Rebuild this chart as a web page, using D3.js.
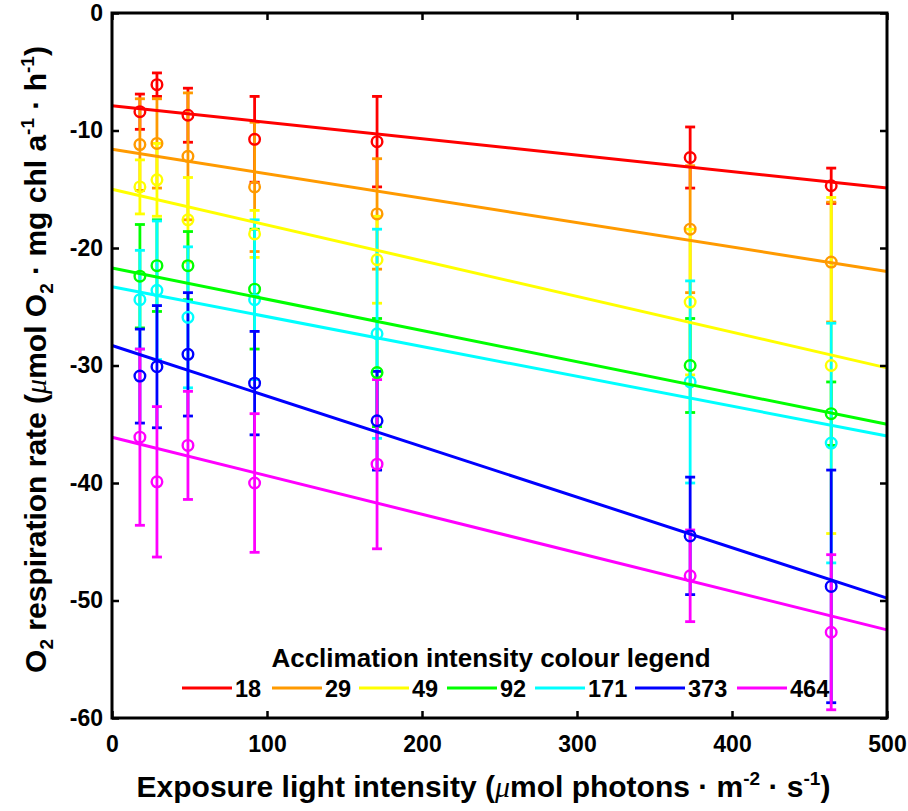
<!DOCTYPE html>
<html><head><meta charset="utf-8">
<script src="https://cdn.jsdelivr.net/npm/d3@7"></script>
<style>body{margin:0;background:#fff}svg{display:block}text{font-family:"Liberation Sans",Arial,sans-serif;font-weight:bold}</style>
</head><body><svg id="c" width="908" height="811"></svg>
<script>
const exposure = [18, 29, 49, 92, 171, 373, 464];
const acclimation = ["18", "29", "49", "92", "171", "373", "464"];
const colors = ["#ff0000", "#ff9a00", "#ffff00", "#00ff00", "#00ffff", "#0000ff", "#ff00ff"];
const means = [
  [-8.4, -6.1, -8.7, -10.75, -10.95, -12.3, -14.7],
  [-11.2, -11.1, -12.2, -14.8, -17.1, -18.4, -21.2],
  [-14.8, -14.2, -17.6, -18.8, -21.0, -24.6, -30.0],
  [-22.4, -21.5, -21.5, -23.5, -30.6, -30.0, -34.1],
  [-24.4, -23.6, -25.9, -24.4, -27.3, -31.4, -36.6],
  [-30.9, -30.1, -29.05, -31.5, -34.7, -44.5, -48.8],
  [-36.1, -39.9, -36.8, -40.0, -38.4, -47.9, -52.7]
];
const errors = [
  [1.5, 1.0, 2.3, 3.65, 3.85, 2.6, 1.5],
  [3.9, 3.8, 5.4, 5.5, 4.7, 5.4, 5.1],
  [2.3, 3.1, 3.6, 2.0, 3.7, 6.2, 14.3],
  [4.4, 3.9, 2.9, 5.1, 4.6, 4.0, 2.7],
  [4.2, 5.9, 6.0, 6.8, 8.9, 8.6, 10.2],
  [4.0, 5.2, 5.25, 4.4, 4.2, 5.0, 9.9],
  [7.5, 6.4, 4.6, 5.9, 7.2, 3.9, 6.6]
];
const fitAt0 = [-7.9, -11.6, -15.0, -21.7, -23.3, -28.3, -36.1];
const fitAt500 = [-14.9, -22.0, -30.2, -35.0, -36.0, -49.8, -52.5];
const xTicks = [0, 100, 200, 300, 400, 500];
const yTicks = [0, -10, -20, -30, -40, -50, -60];

const svg = d3.select("#c");
const L = 112, R = 887, T = 13, B = 718;
const x = d3.scaleLinear().domain([0, 500]).range([L, R]);
const y = d3.scaleLinear().domain([-60, 0]).range([B, T]);

// error bars
const gE = svg.append("g");
means.forEach((row, s) => {
  row.forEach((m, i) => {
    const e = errors[s][i], cx = x(exposure[i]);
    const g = gE.append("g").attr("stroke", colors[s]).attr("stroke-width", 2.8);
    g.append("line").attr("x1", cx).attr("x2", cx).attr("y1", y(m + e)).attr("y2", y(m - e));
    g.append("line").attr("x1", cx - 5).attr("x2", cx + 5).attr("y1", y(m + e)).attr("y2", y(m + e));
    g.append("line").attr("x1", cx - 5).attr("x2", cx + 5).attr("y1", y(m - e)).attr("y2", y(m - e));
  });
});
// circles
means.forEach((row, s) => {
  svg.append("g").selectAll("circle").data(row).join("circle")
    .attr("cx", (d, i) => x(exposure[i])).attr("cy", d => y(d)).attr("r", 5.3)
    .attr("fill", "none").attr("stroke", colors[s]).attr("stroke-width", 2.4);
});
// fit lines
fitAt0.forEach((v, s) => {
  svg.append("line").attr("x1", x(0)).attr("x2", x(500)).attr("y1", y(v)).attr("y2", y(fitAt500[s]))
    .attr("stroke", colors[s]).attr("stroke-width", 3);
});

// axes
const fmt = d => String(d);
const ax = svg.append("g").attr("transform", `translate(0,${B})`)
  .call(d3.axisBottom(x).tickValues(xTicks).tickSize(-7).tickPadding(18).tickFormat(fmt));
const ay = svg.append("g").attr("transform", `translate(${L},0)`)
  .call(d3.axisLeft(y).tickValues(yTicks).tickSize(-7).tickPadding(9).tickFormat(fmt));
const axT = svg.append("g").attr("transform", `translate(0,${T})`)
  .call(d3.axisTop(x).tickValues(xTicks).tickSize(-7).tickFormat(""));
const ayR = svg.append("g").attr("transform", `translate(${R},0)`)
  .call(d3.axisRight(y).tickValues(yTicks).tickSize(-7).tickFormat(""));
[ax, ay, axT, ayR].forEach(g => {
  g.select(".domain").remove();
  g.selectAll(".tick line").attr("stroke", "#000").attr("stroke-width", 2.5);
  g.selectAll("text").attr("font-size", 23).attr("fill", "#000").attr("font-family", "Liberation Sans, Arial, sans-serif").attr("font-weight", "bold");
});
ax.selectAll("text").attr("dy", "0.71em");
svg.append("rect").attr("x", L).attr("y", T).attr("width", R - L).attr("height", B - T)
  .attr("fill", "none").attr("stroke", "#000").attr("stroke-width", 3);

// axis labels
const FS = 30, SS = 19;
const xl = svg.append("text").attr("x", (L + R) / 2 - 16).attr("y", 797).attr("text-anchor", "middle").attr("font-size", FS);
xl.append("tspan").text("Exposure light intensity (");
xl.append("tspan").text("μ").attr("font-style", "italic").attr("font-family", "Liberation Serif, serif").attr("font-weight", "normal");
xl.append("tspan").text("mol photons · m");
xl.append("tspan").text("-2").attr("font-size", SS).attr("dy", -12);
xl.append("tspan").text(" · s").attr("dy", 12);
xl.append("tspan").text("-1").attr("font-size", SS).attr("dy", -12);
xl.append("tspan").text(")").attr("dy", 12);

const yl = svg.append("text").attr("transform", `translate(46,${(T + B) / 2 - 6}) rotate(-90)`).attr("text-anchor", "middle").attr("font-size", FS);
yl.append("tspan").text("O");
yl.append("tspan").text("2").attr("font-size", SS).attr("dy", 7);
yl.append("tspan").text(" respiration rate (").attr("dy", -7);
yl.append("tspan").text("μ").attr("font-style", "italic").attr("font-family", "Liberation Serif, serif").attr("font-weight", "normal");
yl.append("tspan").text("mol O");
yl.append("tspan").text("2").attr("font-size", SS).attr("dy", 7);
yl.append("tspan").text(" · mg chl a").attr("dy", -7);
yl.append("tspan").text("-1").attr("font-size", SS).attr("dy", -12);
yl.append("tspan").text(" · h").attr("dy", 12);
yl.append("tspan").text("-1").attr("font-size", SS).attr("dy", -12);
yl.append("tspan").text(")").attr("dy", 12);

// legend
svg.append("text").attr("x", 491).attr("y", 667).attr("text-anchor", "middle").attr("font-size", 26)
  .text("Acclimation intensity colour legend");
const legX = [182, 272, 359, 447, 535, 635, 737];
const lg = svg.append("g");
acclimation.forEach((a, s) => {
  lg.append("line").attr("x1", legX[s]).attr("x2", legX[s] + 50).attr("y1", 688).attr("y2", 688)
    .attr("stroke", colors[s]).attr("stroke-width", 3);
  lg.append("text").attr("x", legX[s] + 53).attr("y", 697).attr("font-size", 23.5).text(a);
});
</script></body></html>
